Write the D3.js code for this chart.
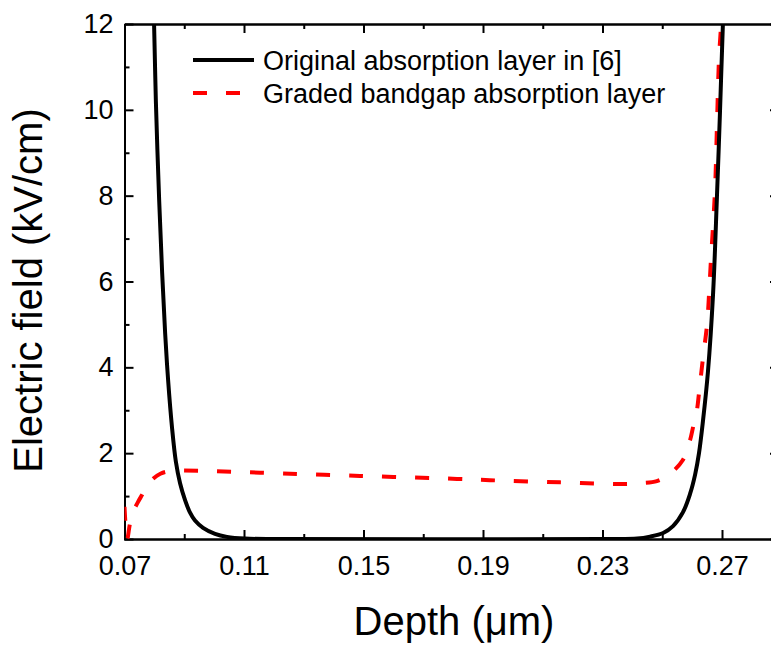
<!DOCTYPE html>
<html>
<head>
<meta charset="utf-8">
<script src="https://cdn.jsdelivr.net/npm/d3@7"></script>
<style>
  body { margin: 0; background: #fff; }
  svg { display: block; font-family: Arial, 'Liberation Sans', sans-serif; }
  .axis path, .axis line { stroke: #000; stroke-width: 2; }
  .axis text { font-size: 27px; fill: #000; }
</style>
</head>
<body>
<svg id="chart"></svg>
<script>
// Original absorption layer (black, solid)
const blackDepth = [0.0797, 0.0799, 0.0805, 0.0816, 0.0826, 0.0836, 0.0846, 0.0859, 0.0872, 0.0886,
  0.0903, 0.0919, 0.0936, 0.0963, 0.1003, 0.1043, 0.1103, 0.1220, 0.2300, 0.2416, 0.2459, 0.2503,
  0.2536, 0.2569, 0.2593, 0.2610, 0.2623, 0.2636, 0.2653, 0.2670, 0.2683, 0.2693, 0.2703, 0.2705];
const blackField = [12.3, 12, 10.2, 7.9, 6.2, 4.8, 3.7, 2.6, 1.8, 1.3,
  0.9, 0.62, 0.43, 0.26, 0.12, 0.05, 0.01, 0, 0, 0.01, 0.055, 0.14,
  0.30, 0.62, 1.05, 1.5, 2.0, 2.73, 3.9, 5.7, 7.96, 9.9, 12, 12.3];

// Graded bandgap absorption layer (red, dashed)
const redDepth = [0.0700, 0.0709, 0.0718, 0.0729, 0.0745, 0.0759, 0.0777, 0.0795, 0.0820, 0.0852,
  0.0953, 0.1154, 0.1488, 0.1813, 0.1923, 0.2158, 0.2369, 0.2426, 0.2482, 0.2526, 0.2569, 0.2593,
  0.2603, 0.2616, 0.2623, 0.2636, 0.2650, 0.2657, 0.2663, 0.2670, 0.2677, 0.2683, 0.2690, 0.2697, 0.2699];
const redField = [0.75, 0.0, 0.35, 0.63, 0.86, 1.03, 1.25, 1.40, 1.52, 1.58,
  1.59, 1.545, 1.47, 1.40, 1.37, 1.32, 1.28, 1.30, 1.35, 1.52, 1.84, 2.3,
  2.6, 3.0, 3.4, 4.2, 5.0, 5.75, 6.5, 7.3, 8.2, 9.6, 11.2, 12, 12.4];

const xMajor = [0.07, 0.11, 0.15, 0.19, 0.23, 0.27];
const xMinor = [0.09, 0.13, 0.17, 0.21, 0.25];
const yMajor = [0, 2, 4, 6, 8, 10, 12];
const yMinor = [1, 3, 5, 7, 9, 11];

const legendLabels = ['Original absorption layer in [6]', 'Graded bandgap absorption layer'];

const W = 771, H = 648;
const margin = { top: 24, left: 124.5, bottom: 109, right: -8 };
const width = W - margin.left - margin.right;
const height = H - margin.top - margin.bottom;

const svg = d3.select('#chart').attr('width', W).attr('height', H);
const chart = svg.append('g').attr('transform', `translate(${margin.left},${margin.top})`);

const xScale = d3.scaleLinear().domain([0.07, 0.07 + width / 2987.5]).range([0, width]);
const yScale = d3.scaleLinear().domain([0, 12]).range([height, 0]);

chart.append('clipPath').attr('id', 'clip')
  .append('rect').attr('width', width).attr('height', height);

// Axes (ticks point inward on all four sides)
const fmtX = d3.format('.2f');
chart.append('g').attr('class', 'axis').attr('transform', `translate(0,${height})`)
  .call(d3.axisBottom(xScale).tickValues(xMajor).tickFormat(fmtX).tickSize(-9).tickPadding(17));
chart.append('g').attr('class', 'axis').attr('transform', `translate(0,${height})`)
  .call(d3.axisBottom(xScale).tickValues(xMinor).tickFormat('').tickSize(-5).tickSizeOuter(0));
chart.append('g').attr('class', 'axis')
  .call(d3.axisTop(xScale).tickValues(xMajor).tickFormat('').tickSize(-9).tickSizeOuter(0));
chart.append('g').attr('class', 'axis')
  .call(d3.axisTop(xScale).tickValues(xMinor).tickFormat('').tickSize(-5).tickSizeOuter(0));

chart.append('g').attr('class', 'axis')
  .call(d3.axisLeft(yScale).tickValues(yMajor).tickSize(-9).tickSizeOuter(0).tickPadding(11));
chart.append('g').attr('class', 'axis')
  .call(d3.axisLeft(yScale).tickValues(yMinor).tickFormat('').tickSize(-5).tickSizeOuter(0));
chart.append('g').attr('class', 'axis').attr('transform', `translate(${width},0)`)
  .call(d3.axisRight(yScale).tickValues(yMajor).tickFormat('').tickSize(-9).tickSizeOuter(0));
chart.append('g').attr('class', 'axis').attr('transform', `translate(${width},0)`)
  .call(d3.axisRight(yScale).tickValues(yMinor).tickFormat('').tickSize(-5).tickSizeOuter(0));

// Curves
const line = d3.line()
  .x(d => xScale(d[0]))
  .y(d => yScale(d[1]))
  .curve(d3.curveCatmullRom.alpha(0.5));

const plot = chart.append('g').attr('clip-path', 'url(#clip)');

plot.append('path')
  .datum(redDepth.map((d, i) => [d, redField[i]]))
  .attr('d', line)
  .attr('fill', 'none')
  .attr('stroke', '#ff0000')
  .attr('stroke-width', 4)
  .attr('stroke-dasharray', '14,19');

plot.append('path')
  .datum(blackDepth.map((d, i) => [d, blackField[i]]))
  .attr('d', line)
  .attr('fill', 'none')
  .attr('stroke', '#000')
  .attr('stroke-width', 4);

// Legend
const legend = svg.append('g');
legend.append('line').attr('x1', 193).attr('x2', 254).attr('y1', 60).attr('y2', 60)
  .attr('stroke', '#000').attr('stroke-width', 4);
legend.append('line').attr('x1', 193).attr('x2', 254).attr('y1', 93).attr('y2', 93)
  .attr('stroke', '#ff0000').attr('stroke-width', 4).attr('stroke-dasharray', '14,19');
legend.selectAll('text.leg')
  .data(legendLabels)
  .join('text')
    .attr('class', 'leg')
    .attr('x', 263)
    .attr('y', (d, i) => 70 + i * 33)
    .attr('font-size', 27)
    .text(d => d);

// Axis titles
svg.append('text')
  .attr('x', 454).attr('y', 635)
  .attr('text-anchor', 'middle')
  .attr('font-size', 40)
  .text('Depth (\u03BCm)');

svg.append('text')
  .attr('transform', 'translate(42,290.5) rotate(-90)')
  .attr('text-anchor', 'middle')
  .attr('font-size', 40)
  .text('Electric field (kV/cm)');
</script>
</body>
</html>
